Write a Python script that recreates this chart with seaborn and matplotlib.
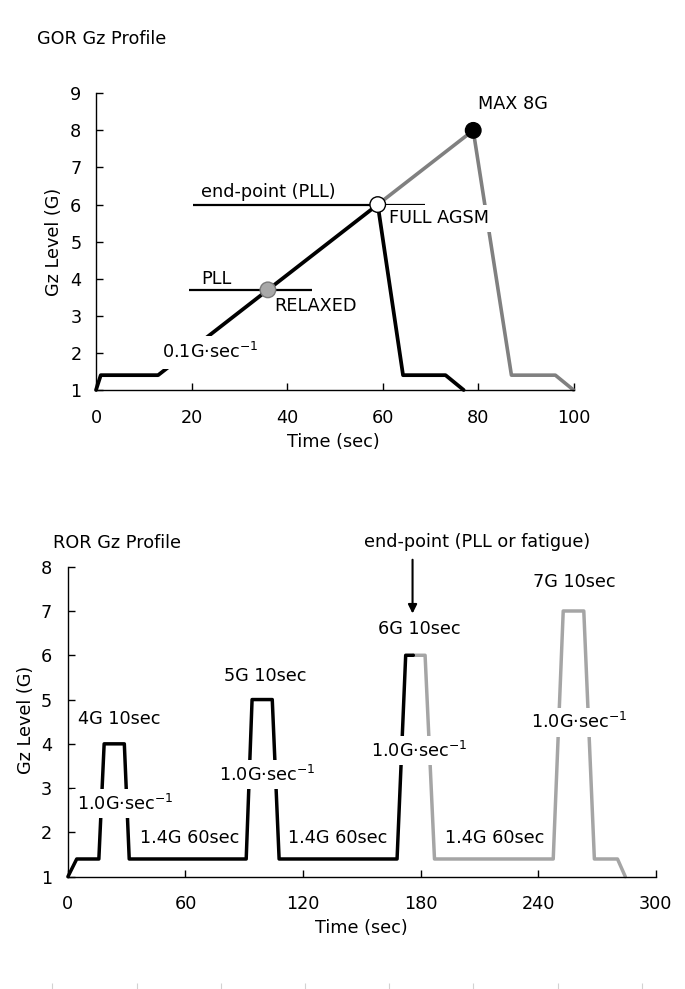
import matplotlib
matplotlib.use("Agg")
import matplotlib.pyplot as plt
import seaborn as sns
import pandas as pd

# ---------------- data ----------------
# GOR (gradual onset run) profile
gor_black_t = [0, 1, 13, 59, 64.3, 73.2, 77]
gor_black_g = [1, 1.4, 1.4, 6, 1.4, 1.4, 1]
gor_gray_t = [59, 79, 87, 96.2, 100]
gor_gray_g = [6, 8, 1.4, 1.4, 1]
gor_point_t = [36, 59, 79]
gor_point_g = [3.7, 6, 8]
gor_point_names = ["RELAXED", "FULL AGSM", "MAX 8G"]
pll_level = 3.7
pll_span = [19.4, 45.3]
endpoint_level = 6.0
endpoint_span = [20.3, 68.8]
gor_xticks = [0, 20, 40, 60, 80, 100]
gor_yticks = [1, 2, 3, 4, 5, 6, 7, 8, 9]

# ROR (rapid onset run) profile
ror_black_t = [0, 4.5, 15.8, 18.5, 28.8, 31.3, 91, 94, 104.3, 107.8, 168, 172.4, 176.3]
ror_black_g = [1, 1.4, 1.4, 4, 4, 1.4, 1.4, 5, 5, 1.4, 1.4, 6, 6]
ror_gray_t = [176.3, 182.3, 187.1, 247.7, 252.8, 263.3, 268.7, 280.5, 284.5]
ror_gray_g = [6, 6, 1.4, 1.4, 7, 7, 1.4, 1.4, 1]
ror_plateau_labels = ["4G 10sec", "5G 10sec", "6G 10sec", "7G 10sec"]
ror_rest_label = "1.4G 60sec"
ror_xticks = [0, 60, 120, 180, 240, 300]
ror_yticks = [1, 2, 3, 4, 5, 6, 7, 8]
rate_label = "1.0G·sec$^{-1}$"

# ---------------- style ----------------
sns.set_style("ticks")
plt.rcParams["font.family"] = ["DejaVu Sans"]
plt.rcParams["mathtext.fontset"] = "dejavusans"
plt.rcParams["text.color"] = "black"
plt.rcParams["axes.labelcolor"] = "black"
plt.rcParams["xtick.color"] = "black"
plt.rcParams["ytick.color"] = "black"

W, H = 685, 989
fig = plt.figure(figsize=(W / 100, H / 100), dpi=100)


def px_axes(l, r, t, b):
    return [l / W, 1 - b / H, (r - l) / W, (b - t) / H]


ax1 = fig.add_axes(px_axes(96, 573.5, 93.3, 390))
ax2 = fig.add_axes(px_axes(67.9, 655.7, 566.7, 876.7))

FS = 12.7
GRAY_TOP = "#808080"
GRAY_BOT = "#a5a5a5"
wbox = dict(boxstyle="square,pad=0.25", fc="white", ec="none")


def style_axes(ax, xlim, ylim, xticks, yticks, xpad, ypad):
    ax.set_xlim(*xlim)
    ax.set_ylim(*ylim)
    ax.set_xticks(xticks)
    ax.set_yticks(yticks)
    for s in ["top", "right"]:
        ax.spines[s].set_visible(False)
    for s in ["left", "bottom"]:
        ax.spines[s].set_color("black")
        ax.spines[s].set_linewidth(1.0)
    ax.tick_params(axis="both", direction="in", length=5, width=1,
                   color="black", labelsize=12.7, labelcolor="black")
    ax.tick_params(axis="x", pad=xpad)
    ax.tick_params(axis="y", pad=ypad)
    ax.set_facecolor("white")


# ---------------- GOR chart ----------------
style_axes(ax1, (0, 100), (1, 9), gor_xticks, gor_yticks, 13.5, 10.5)

sns.lineplot(x=gor_gray_t, y=gor_gray_g, ax=ax1, color=GRAY_TOP, linewidth=2.6,
             sort=False, estimator=None, legend=False)
sns.lineplot(x=gor_black_t, y=gor_black_g, ax=ax1, color="black", linewidth=2.7,
             sort=False, estimator=None, legend=False)
for ln in ax1.get_lines():
    ln.set_clip_on(False)
    ln.set_zorder(2)

ax1.hlines(pll_level, pll_span[0], pll_span[1], color="black", lw=1.6, zorder=2)
ax1.hlines(endpoint_level, endpoint_span[0], endpoint_span[1], color="black", lw=1.6, zorder=2)

pts = pd.DataFrame({"t": gor_point_t, "g": gor_point_g, "name": gor_point_names})
sns.scatterplot(data=pts, x="t", y="g", hue="name", ax=ax1, legend=False,
                palette={"RELAXED": "#a8a8a8", "FULL AGSM": "white", "MAX 8G": "black"},
                edgecolor=["#7a7a7a", "black", "black"], linewidth=1.0, s=125,
                zorder=5, clip_on=False)

ax1.text(21.9, 6.35, "end-point (PLL)", fontsize=FS, ha="left", va="center")
ax1.text(22.1, 4.0, "PLL", fontsize=FS, ha="left", va="center")
ax1.text(37.3, 3.26, gor_point_names[0], fontsize=FS, ha="left", va="center")
ax1.text(61.4, 5.63, gor_point_names[1], fontsize=FS, ha="left", va="center",
         bbox=wbox, zorder=3)
ax1.text(80.0, 8.71, gor_point_names[2], fontsize=FS, ha="left", va="center")
ax1.text(13.9, 1.85, "0.1G·sec$^{-1}$", fontsize=FS, ha="left", va="baseline",
         bbox=dict(boxstyle="square,pad=0.35", fc="white", ec="none"), zorder=3)

ax1.set_xlabel("Time (sec)", fontsize=FS)
ax1.set_ylabel("Gz Level (G)", fontsize=FS)
ax1.xaxis.label.set_va("center")
ax1.yaxis.label.set_va("center")
ax1.xaxis.set_label_coords(0.498, -0.174)
ax1.yaxis.set_label_coords(-0.088, 0.5)

fig.text(37.2 / W, 1 - 39 / H, "GOR Gz Profile", fontsize=FS, ha="left", va="center")

# ---------------- ROR chart ----------------
style_axes(ax2, (0, 300), (1, 8), ror_xticks, ror_yticks, 13, 11.5)

sns.lineplot(x=ror_gray_t, y=ror_gray_g, ax=ax2, color=GRAY_BOT, linewidth=2.5,
             sort=False, estimator=None, legend=False)
sns.lineplot(x=ror_black_t, y=ror_black_g, ax=ax2, color="black", linewidth=2.5,
             sort=False, estimator=None, legend=False)
for ln in ax2.get_lines():
    ln.set_clip_on(False)
    ln.set_zorder(2)

plateau_pos = [(26.0, 4.56), (100.8, 5.54), (179.3, 6.59), (258.5, 7.65)]
for (x, y), lab in zip(plateau_pos, ror_plateau_labels):
    ax2.text(x, y, lab, fontsize=FS, ha="center", va="center")

rate_pos = [(29.1, 2.51), (101.5, 3.17), (179.3, 3.71), (260.8, 4.35)]
for x, y in rate_pos:
    ax2.text(x, y, rate_label, fontsize=FS, ha="center", va="baseline",
             bbox=wbox, zorder=3)

for x in [62.3, 137.9, 218.0]:
    ax2.text(x, 1.88, ror_rest_label, fontsize=FS, ha="center", va="center")

ax2.text(208.8, 8.56, "end-point (PLL or fatigue)", fontsize=FS, ha="center", va="center")
ax2.annotate("", xy=(175.9, 6.88), xytext=(175.9, 8.22),
             arrowprops=dict(arrowstyle="-|>", color="black", lw=1.5, mutation_scale=13),
             annotation_clip=False)

ax2.set_xlabel("Time (sec)", fontsize=FS)
ax2.set_ylabel("Gz Level (G)", fontsize=FS)
ax2.xaxis.label.set_va("center")
ax2.yaxis.label.set_va("center")
ax2.xaxis.set_label_coords(0.499, -0.1645)
ax2.yaxis.set_label_coords(-0.0708, 0.505)

fig.text(52.6 / W, 1 - 542.7 / H, "ROR Gz Profile", fontsize=FS, ha="left", va="center")

# faint tick marks at the very bottom of the page
ax3 = fig.add_axes([52.3 / W, 0.0005, (641.7 - 52.3) / W, 0.004])
ax3.set_xlim(0, 7)
ax3.set_xticks(range(8))
ax3.set_yticks([])
ax3.tick_params(axis="x", direction="in", length=4, width=0.8, color="#d2d2d2",
                labelbottom=False)
for s in ax3.spines.values():
    s.set_visible(False)
ax3.patch.set_visible(False)

fig.savefig("out.png", dpi=100, facecolor="white")
